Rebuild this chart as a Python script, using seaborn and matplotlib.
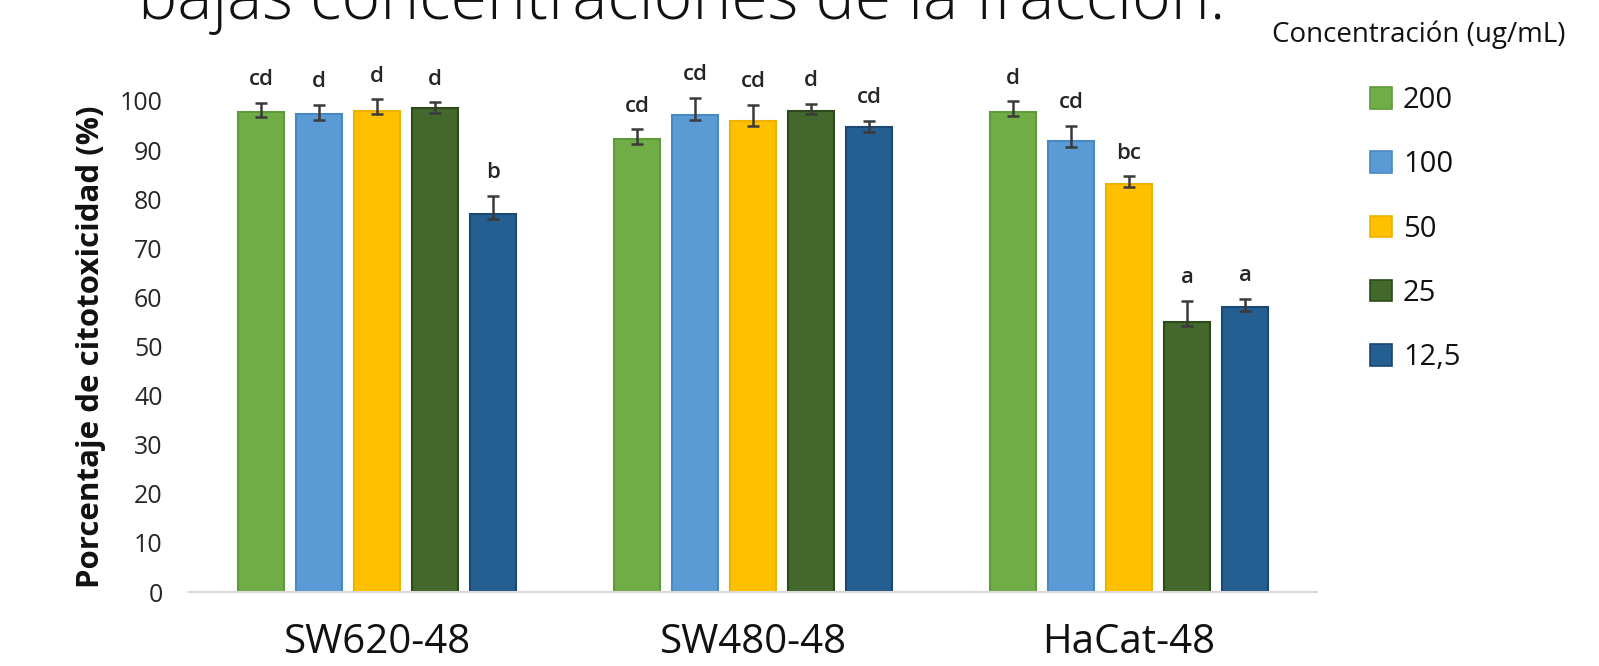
import matplotlib
matplotlib.use("Agg")
import matplotlib.pyplot as plt
from matplotlib.patches import Patch
import seaborn as sns
import pandas as pd

# Cell lines and concentrations (ug/mL)
cell_lines = ["SW620-48", "SW480-48", "HaCat-48"]
concentrations = ["200", "100", "50", "25", "12,5"]

# Mean cytotoxicity (%) per concentration, ordered like cell_lines
cyto_200 = [97.8, 92.3, 97.8]
cyto_100 = [97.3, 97.1, 91.8]
cyto_50 = [98.0, 95.9, 83.1]
cyto_25 = [98.6, 98.0, 55.0]
cyto_12_5 = [77.0, 94.7, 58.0]

# Error bar extents (upper / lower)
err_up_200 = [1.8, 1.9, 2.2]
err_up_100 = [1.9, 3.6, 3.2]
err_up_50 = [2.4, 3.3, 1.6]
err_up_25 = [1.1, 1.4, 4.3]
err_up_12_5 = [3.7, 1.3, 1.7]
err_dn_200 = [1.0, 1.0, 0.8]
err_dn_100 = [1.2, 1.0, 1.1]
err_dn_50 = [0.7, 1.0, 0.7]
err_dn_25 = [1.0, 0.7, 0.9]
err_dn_12_5 = [1.0, 1.0, 0.7]

# Significance letters
letters_200 = ["cd", "cd", "d"]
letters_100 = ["d", "cd", "cd"]
letters_50 = ["d", "cd", "bc"]
letters_25 = ["d", "d", "a"]
letters_12_5 = ["b", "cd", "a"]

y_ticks = [0, 10, 20, 30, 40, 50, 60, 70, 80, 90, 100]

fill_colors = ["#70AD47", "#5B9BD5", "#FFC000", "#43682B", "#255E91"]
edge_colors = ["#5F9A3A", "#4A88C2", "#EDB100", "#2C4A1A", "#1B4773"]

values = [cyto_200, cyto_100, cyto_50, cyto_25, cyto_12_5]
err_up = [err_up_200, err_up_100, err_up_50, err_up_25, err_up_12_5]
err_dn = [err_dn_200, err_dn_100, err_dn_50, err_dn_25, err_dn_12_5]
letters = [letters_200, letters_100, letters_50, letters_25, letters_12_5]

rows = []
for conc, vals in zip(concentrations, values):
    for line, v in zip(cell_lines, vals):
        rows.append({"linea": line, "conc": conc, "valor": v})
df = pd.DataFrame(rows)

sns.set_theme(style="white")
plt.rcParams["font.family"] = ["Open Sans", "DejaVu Sans"]

fig = plt.figure(figsize=(15.99, 6.66), dpi=100)
ax = fig.add_axes([189 / 1599, 74 / 666, 1128 / 1599, 491 / 666])

sns.barplot(data=df, x="linea", y="valor", hue="conc", order=cell_lines,
            hue_order=concentrations, palette=fill_colors, saturation=1,
            width=0.771, gap=0.2, errorbar=None, legend=False, ax=ax,
            linewidth=1.5)

text_color = "#262626"
bar_containers = list(ax.containers)
for i, container in enumerate(bar_containers):
    xs = []
    for bar in container.patches:
        bar.set_edgecolor(edge_colors[i])
        bar.set_linewidth(1.5)
        xs.append(bar.get_x() + bar.get_width() / 2)
    ax.errorbar(xs, values[i], yerr=[err_dn[i], err_up[i]], fmt="none",
                ecolor="#3A3A3A", elinewidth=1.8, capsize=4.5, capthick=1.8,
                clip_on=False, zorder=5)
    for x, v, up, lab in zip(xs, values[i], err_up[i], letters[i]):
        ax.annotate(lab, (x, v + up), xytext=(0, 23), textcoords="offset pixels",
                    ha="center", va="center", fontsize=16, fontweight="semibold",
                    color=text_color, annotation_clip=False)

ax.set_ylim(0, 100)
ax.set_yticks(y_ticks)
ax.set_xlim(-0.5, 2.5)
for side in ["top", "right", "left"]:
    ax.spines[side].set_visible(False)
ax.spines["bottom"].set_color("#D9D9D9")
ax.spines["bottom"].set_linewidth(1.5)
ax.tick_params(axis="both", length=0)
ax.tick_params(axis="y", pad=19, labelsize=18, labelcolor=text_color)
ax.tick_params(axis="x", pad=22, labelsize=29, labelcolor="#111111")
ax.set_xlabel("")
ax.set_ylabel("Porcentaje de citotoxicidad (%)", fontsize=22.5, fontweight="bold",
              color="#111111", labelpad=10)

handles = [Patch(facecolor=fc, edgecolor=ec, linewidth=1.2)
           for fc, ec in zip(fill_colors, edge_colors)]
fig.legend(handles, concentrations, loc="upper left",
           bbox_to_anchor=(1370 / 1599, 1 - 86 / 666), frameon=False,
           fontsize=21, handlelength=0.75, handleheight=0.75,
           handletextpad=0.38, labelspacing=1.21, borderpad=0,
           borderaxespad=0, labelcolor="#111111")

fig.text(1565 / 1599, 1 - 35 / 666, "Concentración (ug/mL)", ha="right",
         va="center", fontsize=20, color="#111111")

fig.text(138 / 1599, 1 - 19 / 666, "bajas concentraciones de la fracción.",
         ha="left", va="baseline", fontsize=47.5, fontweight="light",
         color="#111111")

fig.savefig("out.png", dpi=100, facecolor="white")
